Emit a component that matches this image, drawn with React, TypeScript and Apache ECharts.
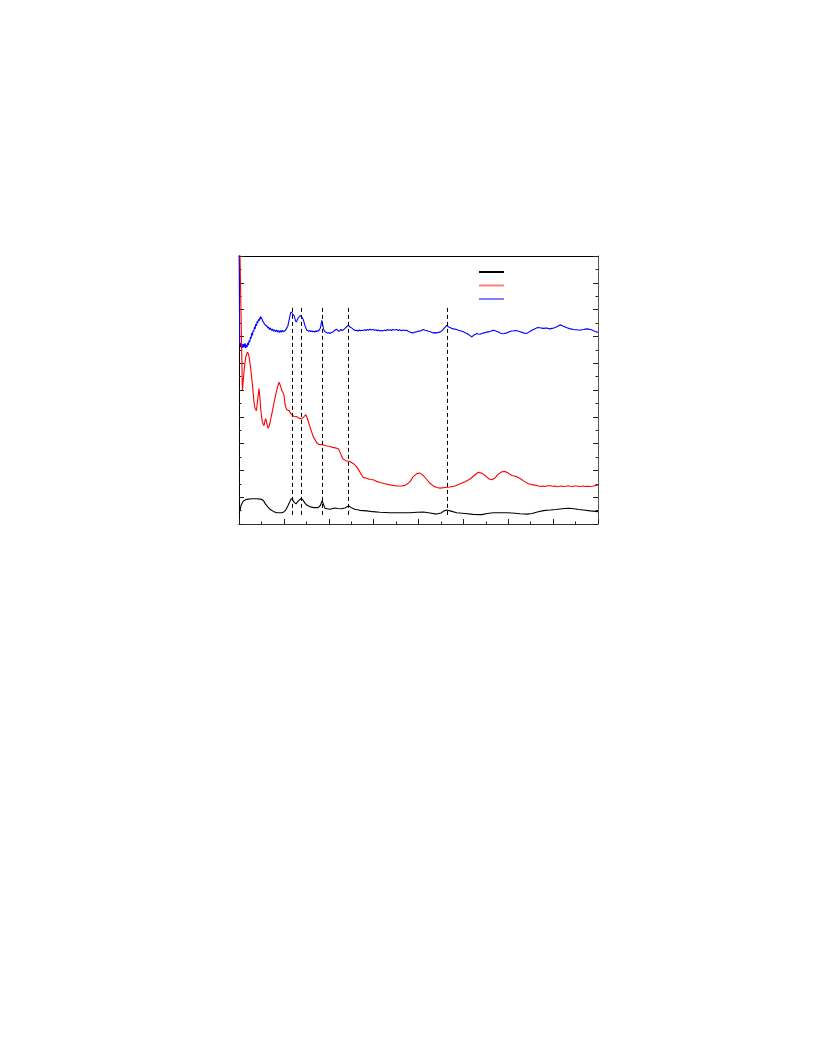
import React, { useEffect, useRef } from "react";
import * as echarts from "echarts";

// ---- data (x: 0..800, y: 0..10, arbitrary units) ----
const seriesNames = ["black", "red", "blue"];
const seriesColors = ["#000000", "#ff0000", "#0000ff"];

const blackCurve: number[][] = [
  [0.4, 0.41], [2.2, 0.52], [4.9, 0.71], [9.8, 0.86], [17.2, 0.92], [28.3, 0.94], [39.5, 0.94], [50.7, 0.92],
  [55.1, 0.86], [58.0, 0.77], [64.1, 0.64], [69.2, 0.55], [76.3, 0.47], [84.1, 0.42], [95.3, 0.42], [99.8, 0.45],
  [104.2, 0.52], [108.7, 0.67], [111.6, 0.77], [116.5, 0.95], [119.9, 0.9], [123.2, 0.8], [127.2, 0.75], [132.1, 0.86],
  [138.4, 0.95], [142.2, 0.9], [147.3, 0.77], [152.2, 0.69], [158.9, 0.64], [166.7, 0.61], [176.3, 0.61], [181.2, 0.69],
  [185.3, 0.87], [188.0, 0.75], [191.3, 0.59], [202.4, 0.55], [213.6, 0.6], [220.3, 0.58], [228.6, 0.57], [236.0, 0.6],
  [241.6, 0.65], [244.9, 0.67], [249.3, 0.62], [258.2, 0.55], [269.4, 0.51], [284.4, 0.49], [298.4, 0.46], [314.0, 0.44],
  [336.4, 0.42], [358.7, 0.42], [381.0, 0.42], [396.6, 0.44], [410.7, 0.45], [425.6, 0.41], [440.6, 0.37], [450.2, 0.41],
  [456.9, 0.49], [462.9, 0.52], [470.3, 0.49], [485.2, 0.42], [503.8, 0.39], [521.6, 0.36], [541.0, 0.35], [552.9, 0.39],
  [566.9, 0.42], [581.9, 0.42], [596.8, 0.42], [615.4, 0.4], [626.5, 0.38], [641.5, 0.37], [653.3, 0.39], [664.5, 0.45],
  [678.5, 0.5], [693.5, 0.52], [706.9, 0.54], [720.3, 0.57], [734.3, 0.59], [747.0, 0.57], [756.0, 0.54], [767.8, 0.52],
  [782.8, 0.49], [800, 0.46],
];

const redCurve: number[][] = [
  [1.2, 11], [7.6, 4.98], [10.5, 5.55], [12.7, 5.95], [15.5, 6.25], [18.7, 6.41], [20.8, 6.36], [22.8, 6.21],
  [26.1, 5.8], [29.9, 5.2], [33.5, 4.54], [36, 4.3], [38.8, 4.23], [41.7, 4.64], [44.6, 5.05], [46.6, 4.71],
  [48.4, 4.3], [50.3, 4.0], [52.2, 3.79], [55.8, 3.67], [57.8, 3.85], [59.6, 3.93], [62.3, 3.74], [64.7, 3.57],
  [66.5, 3.62], [68.5, 3.74], [70.8, 3.92], [74.5, 4.22], [78.1, 4.54], [82, 4.84], [85.7, 5.1], [89.3, 5.29],
  [92.4, 5.16], [95.3, 4.98], [98.2, 4.9], [100.4, 4.79], [103.1, 4.41], [106.5, 4.26], [111.6, 4.23], [117, 4.08],
  [122.1, 4.02], [128.1, 4.01], [133.3, 3.95], [139.3, 3.92], [144.4, 4.0], [148.9, 4.08], [153.3, 3.89], [157.8, 3.64],
  [165.2, 3.27], [172.8, 3.04], [177.9, 2.97], [186.1, 2.96], [193.5, 2.92], [202.4, 2.89], [209.1, 2.86], [217.4, 2.83],
  [221.4, 2.81], [224.8, 2.7], [228.6, 2.54], [232.1, 2.42], [238.2, 2.36], [247.1, 2.33], [254.4, 2.26], [262, 2.14],
  [267.2, 2.0], [273.2, 1.83], [276.8, 1.74], [284.4, 1.71], [291.7, 1.66], [299.1, 1.65], [306.7, 1.59], [314, 1.55],
  [325.3, 1.5], [336.4, 1.46], [351.3, 1.42], [362.5, 1.42], [369.9, 1.44], [375.4, 1.5], [381, 1.58], [388.5, 1.77],
  [396, 1.88], [403.4, 1.9], [410.7, 1.81], [418.3, 1.66], [425.6, 1.52], [433, 1.42], [440.6, 1.36], [448, 1.34],
  [459.1, 1.36], [470.3, 1.38], [481.5, 1.42], [492.7, 1.5], [503.8, 1.58], [515, 1.68], [523.9, 1.81], [533.4, 1.93],
  [541.7, 1.89], [550.6, 1.78], [557.3, 1.68], [563.4, 1.65], [570.7, 1.72], [578.5, 1.87], [585.7, 1.95], [593, 1.96],
  [600.8, 1.89], [608.7, 1.81], [619.2, 1.76], [626.5, 1.7], [635.5, 1.59], [645.1, 1.5], [655.6, 1.46], [663, 1.44],
  [671.2, 1.4], [677, 1.42], [682.3, 1.4], [688, 1.43], [693.5, 1.43], [699, 1.41], [704.6, 1.42], [709, 1.39],
  [713.6, 1.4], [718, 1.42], [723.2, 1.4], [728, 1.41], [733.7, 1.43], [738, 1.41], [742.6, 1.4], [748, 1.42],
  [753.1, 1.42], [758, 1.4], [762.7, 1.41], [767, 1.42], [771.6, 1.4], [777, 1.41], [782.8, 1.4], [787, 1.41],
  [791.7, 1.43], [796, 1.44], [800, 1.46],
];

const blueCurve: number[][] = [
  [0, 11], [1.6, 6.7], [3.5, 6.6], [4.5, 6.76], [6.0, 6.56], [7.5, 6.7], [9, 6.58], [10.5, 6.72], [12, 6.6],
  [13.5, 6.74], [15, 6.56], [16.5, 6.68], [18, 6.6], [19.4, 6.76], [21, 6.68], [22.5, 6.84], [23.9, 6.78], [25.5, 6.98],
  [27, 6.92], [28.3, 7.12], [30, 7.04], [31.5, 7.22], [32.8, 7.18], [34.5, 7.36], [36, 7.28], [37.3, 7.46], [39, 7.4],
  [40.5, 7.56], [41.7, 7.5], [43.5, 7.64], [45, 7.58], [46.2, 7.7], [47.5, 7.64], [48.4, 7.75], [50, 7.67], [51.5, 7.65],
  [52.9, 7.56], [54.5, 7.55], [56, 7.48], [57.4, 7.47], [59, 7.42], [60.5, 7.39], [62, 7.41], [64.1, 7.31], [66, 7.35],
  [68, 7.25], [70, 7.31], [73, 7.22], [75, 7.28], [77, 7.19], [79, 7.25], [81.9, 7.18], [84, 7.24], [86, 7.16], [88, 7.22],
  [90.8, 7.15], [93, 7.22], [95, 7.16], [97, 7.23], [99, 7.17], [102, 7.21], [104, 7.24], [106, 7.3], [108.7, 7.38],
  [111, 7.56], [113.2, 7.74], [115, 7.88], [116.5, 7.91], [118, 7.88], [120, 7.82], [122.1, 7.8], [124, 7.7], [126, 7.58],
  [127.7, 7.54], [129.5, 7.6], [131.5, 7.68], [133.3, 7.71], [135.5, 7.76], [137.7, 7.78], [139.5, 7.74], [141.5, 7.68],
  [143.3, 7.63], [145, 7.52], [147, 7.4], [148.9, 7.31], [151, 7.24], [153, 7.22], [155.6, 7.19], [158, 7.22], [160, 7.18],
  [162.5, 7.21], [164.5, 7.17], [166.7, 7.19], [169, 7.16], [171, 7.21], [173, 7.18], [175, 7.22], [176.8, 7.2],
  [179, 7.24], [181.2, 7.31], [183, 7.46], [184.6, 7.6], [186.3, 7.46], [188, 7.31], [190, 7.22], [192, 7.17],
  [194.6, 7.15], [197, 7.12], [200, 7.14], [202.4, 7.11], [205, 7.14], [207.5, 7.15], [209.8, 7.17], [212, 7.21],
  [215, 7.25], [217.4, 7.27], [220, 7.22], [222.5, 7.19], [224.8, 7.21], [227, 7.26], [229.5, 7.22], [232.1, 7.24],
  [235, 7.28], [237.5, 7.32], [240, 7.36], [243.3, 7.41], [246, 7.38], [248.5, 7.33], [250.9, 7.32], [253.5, 7.28],
  [256, 7.25], [259, 7.22], [262, 7.23], [265, 7.2], [268, 7.24], [271, 7.21], [274, 7.23], [276.8, 7.22], [280, 7.25],
  [283, 7.22], [286, 7.26], [289, 7.23], [292, 7.27], [295, 7.24], [299.1, 7.26], [302, 7.23], [305, 7.25], [308, 7.21],
  [311, 7.24], [314, 7.2], [317, 7.22], [321.4, 7.21], [325, 7.24], [328, 7.21], [331, 7.26], [334, 7.23], [337, 7.25],
  [340, 7.22], [343, 7.26], [346, 7.24], [351.3, 7.26], [355, 7.22], [358, 7.25], [362, 7.21], [366, 7.24], [370, 7.22],
  [373.6, 7.23], [377, 7.19], [381, 7.16], [384.5, 7.14], [388, 7.13], [392, 7.16], [396, 7.17], [399.5, 7.2],
  [403, 7.19], [407, 7.23], [411, 7.26], [414.5, 7.23], [418, 7.22], [422, 7.19], [426, 7.18], [429.5, 7.15], [433, 7.13],
  [437, 7.14], [441, 7.13], [444.5, 7.15], [448, 7.16], [451.5, 7.2], [455, 7.26], [459, 7.34], [463, 7.41],
  [466.5, 7.36], [470, 7.33], [474, 7.3], [478, 7.28], [481.5, 7.27], [485, 7.26], [489, 7.23], [493, 7.21],
  [496.5, 7.19], [500, 7.17], [504, 7.14], [508, 7.11], [511.5, 7.07], [515, 7.03], [519, 6.98], [522, 7.03], [526, 7.07],
  [530, 7.11], [533.5, 7.09], [537, 7.08], [541, 7.11], [545, 7.13], [548.5, 7.14], [552, 7.16], [556, 7.17], [560, 7.18],
  [563.5, 7.21], [567, 7.23], [570.5, 7.21], [574, 7.19], [578, 7.16], [582, 7.13], [585.5, 7.11], [589, 7.1],
  [593, 7.12], [597, 7.13], [600.5, 7.16], [604, 7.18], [608, 7.2], [612, 7.21], [615.5, 7.22], [619, 7.21], [623, 7.19],
  [627, 7.17], [630.5, 7.15], [634, 7.13], [637.5, 7.12], [641, 7.11], [645, 7.15], [649, 7.19], [652.5, 7.23],
  [656, 7.26], [660, 7.29], [664, 7.32], [667.5, 7.33], [671, 7.32], [675, 7.31], [679, 7.3], [682.5, 7.31], [686, 7.31],
  [690, 7.29], [693, 7.28], [697, 7.3], [701, 7.31], [704.5, 7.33], [708, 7.36], [712, 7.4], [716, 7.43], [719.5, 7.41],
  [723, 7.38], [727, 7.35], [731, 7.32], [734.5, 7.3], [738, 7.28], [742, 7.27], [745, 7.26], [749, 7.25], [753, 7.25],
  [756.5, 7.24], [760, 7.23], [764, 7.25], [768, 7.26], [771.5, 7.27], [775, 7.28], [779, 7.27], [783, 7.26],
  [786.5, 7.24], [790, 7.21], [794, 7.18], [798, 7.16], [800, 7.16],
];

// dashed marker positions and their vertical extent
const markerX = [118, 138, 185, 243, 464];
const markerRange = [0.34, 8.12];

// axis ranges
const xRange = [0, 800];
const xInterval = 100;
const yRange = [0, 10];
const yInterval = 1;

function makeAxis(kind: "x" | "y", position: string, ticks: boolean, color: string) {
  return {
    type: "value",
    position,
    min: kind === "x" ? xRange[0] : yRange[0],
    max: kind === "x" ? xRange[1] : yRange[1],
    interval: kind === "x" ? xInterval : yInterval,
    axisLine: { show: true, onZero: false, lineStyle: { color, width: 1 } },
    axisTick: ticks
      ? { show: true, inside: true, length: 5, lineStyle: { color: "#222", width: 1 } }
      : { show: false },
    minorTick: ticks
      ? { show: true, splitNumber: 2, length: 2.5, lineStyle: { color: "#222", width: 1 } }
      : { show: false },
    axisLabel: { show: false },
    splitLine: { show: false },
    minorSplitLine: { show: false },
  };
}

export default function App() {
  const ref = useRef<HTMLDivElement>(null);

  useEffect(() => {
    if (!ref.current) return;
    const chart = echarts.init(ref.current, null, { renderer: "svg" });

    const curves = [blackCurve, redCurve, blueCurve];

    chart.setOption({
      animation: false,
      backgroundColor: "#fff",
      grid: { left: 239, top: 256, width: 359, height: 268, containLabel: false },
      legend: {
        show: true,
        orient: "vertical",
        left: 479,
        top: 271,
        padding: 0,
        itemWidth: 25,
        itemHeight: 2,
        itemGap: 11.5,
        icon: "rect",
        formatter: () => "",
        textStyle: { fontSize: 1, lineHeight: 2 },
        selectedMode: false,
        data: seriesNames.map((n, i) => ({
          name: n,
          icon: "rect",
          itemStyle: { color: seriesColors[i], opacity: i === 0 ? 1 : 0.5 },
        })),
      },
      xAxis: [
        makeAxis("x", "bottom", true, "#333"),
        makeAxis("x", "top", false, "#000"),
      ],
      yAxis: [
        makeAxis("y", "left", true, "#000"),
        makeAxis("y", "right", true, "#555"),
      ],
      series: [
        ...curves.map((c, i) => ({
          name: seriesNames[i],
          type: "line",
          xAxisIndex: 0,
          yAxisIndex: 0,
          data: c,
          showSymbol: false,
          symbol: "none",
          clip: true,
          silent: true,
          color: seriesColors[i],
          lineStyle: { color: seriesColors[i], width: 1.1 },
          z: 3 - i,
        })),
        {
          name: "markers",
          type: "line",
          xAxisIndex: 0,
          yAxisIndex: 0,
          data: [],
          silent: true,
          markLine: {
            silent: true,
            symbol: ["none", "none"],
            label: { show: false },
            lineStyle: { color: "#000", width: 1, type: [4, 3] },
            data: markerX.map((x) => [
              { coord: [x, markerRange[0]] },
              { coord: [x, markerRange[1]] },
            ]),
          },
        },
      ],
    });

    return () => chart.dispose();
  }, []);

  return (
    <div
      ref={ref}
      style={{ position: "absolute", left: 0, top: 0, width: 816, height: 1056, background: "#fff" }}
    />
  );
}
